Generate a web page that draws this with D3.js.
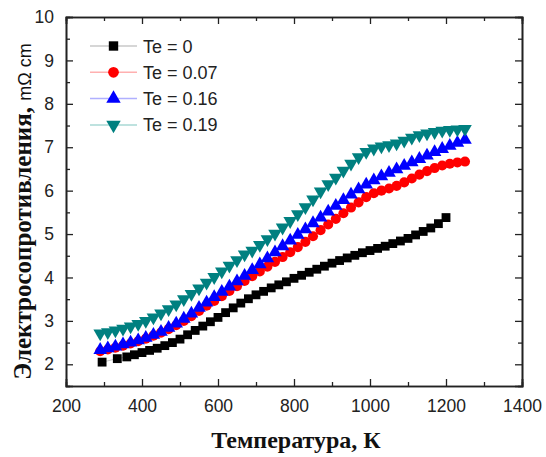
<!DOCTYPE html>
<html>
<head>
<meta charset="utf-8">
<script src="https://cdn.jsdelivr.net/npm/d3@7"></script>
<style>
  body { margin: 0; background: #fff; }
  svg text { font-family: "Liberation Sans", Arial, sans-serif; }
</style>
</head>
<body>
<div id="chart"></div>
<script>
// temperatures, K
const tempBlack = [295, 335, 360, 380, 400, 420, 440, 460, 480, 500, 520, 540, 560, 580, 600, 620, 640, 660, 680, 700,
  720, 740, 760, 780, 800, 820, 840, 860, 880, 900, 920, 940, 960, 980, 1000, 1020, 1040, 1060, 1080, 1100,
  1120, 1140, 1160, 1180, 1200];
const tempDoped = [290, 310, 330, 350, 370, 390, 410, 430, 450, 470, 490, 510, 530, 550, 570, 590, 610, 630, 650, 670,
  690, 710, 730, 750, 770, 790, 810, 830, 850, 870, 890, 910, 930, 950, 970, 990, 1010, 1030, 1050, 1070,
  1090, 1110, 1130, 1150, 1170, 1190, 1210, 1230, 1250];

// resistivity, mOhm cm
const te0 = [2.05, 2.13, 2.17, 2.22, 2.27, 2.32, 2.37, 2.43, 2.5, 2.58, 2.68, 2.78, 2.88, 2.98, 3.08, 3.19, 3.3, 3.41, 3.51, 3.6,
  3.68, 3.76, 3.83, 3.9, 3.98, 4.05, 4.12, 4.19, 4.26, 4.33, 4.39, 4.45, 4.51, 4.57, 4.62, 4.67, 4.72, 4.78, 4.84, 4.9,
  4.98, 5.06, 5.14, 5.24, 5.38];
const te007 = [2.30, 2.34, 2.38, 2.43, 2.48, 2.53, 2.59, 2.66, 2.73, 2.81, 2.9, 3.0, 3.11, 3.23, 3.35, 3.46, 3.57, 3.69, 3.8, 3.92,
  4.03, 4.14, 4.25, 4.36, 4.47, 4.58, 4.7, 4.82, 4.95, 5.09, 5.22, 5.35, 5.48, 5.61, 5.73, 5.85, 5.94, 6.0, 6.05, 6.11,
  6.19, 6.28, 6.37, 6.45, 6.52, 6.58, 6.62, 6.65, 6.67];
const te016 = [2.33, 2.37, 2.41, 2.46, 2.5, 2.55, 2.61, 2.68, 2.75, 2.84, 2.94, 3.05, 3.17, 3.3, 3.42, 3.55, 3.67, 3.79, 3.91, 4.04,
  4.17, 4.3, 4.44, 4.58, 4.72, 4.85, 4.98, 5.11, 5.25, 5.38, 5.52, 5.65, 5.78, 5.91, 6.03, 6.14, 6.24, 6.33, 6.41, 6.49,
  6.57, 6.65, 6.73, 6.81, 6.89, 6.96, 7.03, 7.1, 7.17];
const te019 = [2.71, 2.74, 2.78, 2.82, 2.87, 2.93, 3.0, 3.08, 3.17, 3.27, 3.38, 3.5, 3.62, 3.75, 3.88, 4.01, 4.14, 4.27, 4.4, 4.53,
  4.62, 4.75, 4.88, 5.01, 5.15, 5.3, 5.46, 5.62, 5.8, 5.98, 6.15, 6.3, 6.46, 6.62, 6.77, 6.89, 6.97, 7.02, 7.05, 7.09,
  7.15, 7.22, 7.28, 7.32, 7.35, 7.38, 7.4, 7.41, 7.42];

const seriesNames = ["Te = 0", "Te = 0.07", "Te = 0.16", "Te = 0.19"];
const xTicks = [200, 400, 600, 800, 1000, 1200, 1400];
const yTicks = [2, 3, 4, 5, 6, 7, 8, 9, 10];

const series = [
  {name: seriesNames[0], t: tempBlack, v: te0, color: "#000000", line: "#c8c8c8", sym: d3.symbolSquare, size: 78},
  {name: seriesNames[1], t: tempDoped, v: te007, color: "#ff0000", line: "#ffb0b0", sym: d3.symbolCircle, size: 80},
  {name: seriesNames[2], t: tempDoped, v: te016, color: "#0000ff", line: "#b0b0ff", sym: d3.symbolTriangle, size: 80},
  {name: seriesNames[3], t: tempDoped, v: te019, color: "#008080", line: "#a8d8d4", sym: d3.symbolTriangle, size: 80, flip: true}
];

const width = 546, height = 457;
const margin = {top: 17, right: 24, bottom: 71, left: 66};

const svg = d3.select("#chart").append("svg")
  .attr("width", width)
  .attr("height", height);

const x = d3.scaleLinear().domain([200, 1400]).range([margin.left, width - margin.right]);
const y = d3.scaleLinear().domain([1.5, 10]).range([height - margin.bottom, margin.top]);

// series
series.forEach(function (s) {
  const pts = s.t.map(function (t, i) { return [t, s.v[i]]; });
  svg.append("path")
    .datum(pts)
    .attr("fill", "none")
    .attr("stroke", s.line)
    .attr("stroke-width", 1)
    .attr("d", d3.line().x(d => x(d[0])).y(d => y(d[1])));
  svg.append("g")
    .selectAll("path")
    .data(pts)
    .enter()
    .append("path")
    .attr("d", d3.symbol().type(s.sym).size(s.size))
    .attr("transform", d => "translate(" + x(d[0]) + "," + y(d[1]) + ")" + (s.flip ? " rotate(180)" : ""))
    .attr("fill", s.color);
});

// axes frame
const axisColor = "#222";
function minor(a, b, step) { return d3.range(a, b + 1e-9, step); }

svg.append("g")
  .attr("transform", "translate(0," + (height - margin.bottom) + ")")
  .call(d3.axisBottom(x).tickValues(xTicks).tickSize(-7).tickFormat(d3.format("d")).tickPadding(14));
svg.append("g")
  .attr("transform", "translate(0," + (height - margin.bottom) + ")")
  .call(d3.axisBottom(x).tickValues(minor(300, 1300, 200)).tickSize(-4).tickFormat(""));
svg.append("g")
  .attr("transform", "translate(0," + margin.top + ")")
  .call(d3.axisTop(x).tickValues(xTicks).tickSize(-7).tickFormat(""));
svg.append("g")
  .attr("transform", "translate(0," + margin.top + ")")
  .call(d3.axisTop(x).tickValues(minor(300, 1300, 200)).tickSize(-4).tickFormat(""));

svg.append("g")
  .attr("transform", "translate(" + margin.left + ",0)")
  .call(d3.axisLeft(y).tickValues(yTicks).tickSize(-7).tickFormat(d3.format("d")).tickPadding(12));
svg.append("g")
  .attr("transform", "translate(" + margin.left + ",0)")
  .call(d3.axisLeft(y).tickValues(minor(2.5, 9.5, 1)).tickSize(-4).tickFormat(""));
svg.append("g")
  .attr("transform", "translate(" + (width - margin.right) + ",0)")
  .call(d3.axisRight(y).tickValues(yTicks).tickSize(-7).tickFormat(""));
svg.append("g")
  .attr("transform", "translate(" + (width - margin.right) + ",0)")
  .call(d3.axisRight(y).tickValues(minor(2.5, 9.5, 1)).tickSize(-4).tickFormat(""));

svg.selectAll(".domain").attr("stroke", axisColor).attr("stroke-width", 1.6);
svg.selectAll(".tick line").attr("stroke", axisColor).attr("stroke-width", 1.3);
svg.selectAll(".tick text")
  .attr("fill", "#222")
  .style("font-size", "17.5px")
  .style("font-family", "'Liberation Sans', Arial, sans-serif");

// axis titles
svg.append("text")
  .attr("x", (margin.left + width - margin.right) / 2 + 2)
  .attr("y", 448)
  .attr("text-anchor", "middle")
  .style("font-family", "'Liberation Serif', 'Times New Roman', serif")
  .style("font-weight", "bold")
  .style("font-size", "24px")
  .attr("fill", "#111")
  .text("Температура, К");

const yTitle = svg.append("text")
  .attr("transform", "translate(31," + ((margin.top + height - margin.bottom) / 2 + 10) + ") rotate(-90)")
  .attr("text-anchor", "middle")
  .attr("fill", "#111");
yTitle.append("tspan")
  .style("font-family", "'Liberation Serif', 'Times New Roman', serif")
  .style("font-weight", "bold")
  .style("font-size", "25px")
  .text("Электросопротивления, ");
yTitle.append("tspan")
  .style("font-family", "'Liberation Sans', Arial, sans-serif")
  .style("font-size", "18px")
  .text("mΩ cm");

// legend
const legend = svg.append("g").attr("transform", "translate(90,46)");
series.forEach(function (s, i) {
  const g = legend.append("g").attr("transform", "translate(0," + (i * 26.3) + ")");
  g.append("line").attr("x1", 0).attr("x2", 47).attr("stroke", s.line).attr("stroke-width", 1.5);
  g.append("path")
    .attr("d", d3.symbol().type(s.sym).size(s.size + 10))
    .attr("transform", "translate(23.5,0)" + (s.flip ? " rotate(180)" : ""))
    .attr("fill", s.color);
  g.append("text")
    .attr("x", 53)
    .attr("y", 6.5)
    .style("font-size", "18px")
    .attr("fill", "#222")
    .text(s.name);
});
</script>
</body>
</html>
